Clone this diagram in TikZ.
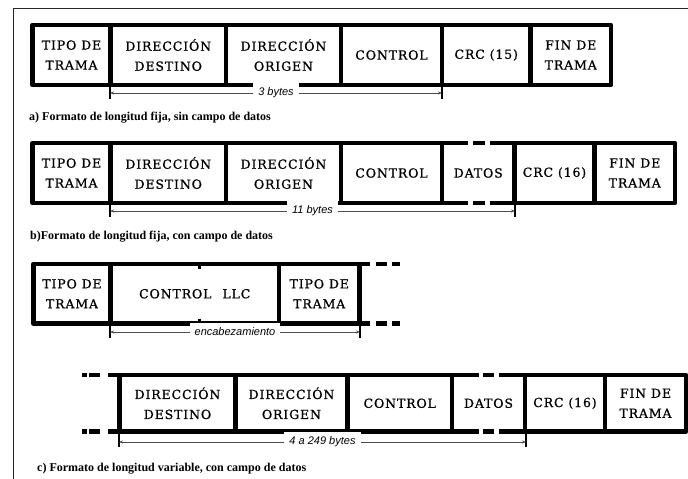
\documentclass[tikz,border=0pt]{standalone}
\usepackage{fontspec}
\setmainfont{DejaVu Serif}
\newfontfamily\boxfont[LetterSpace=7,FakeBold=0.8]{DejaVu Serif}
\newfontfamily\capfont{Liberation Serif}
\newfontfamily\dimfont{Liberation Sans}
\usetikzlibrary{arrows.meta}

% one closed field of a frame: name, x1, x2, y1, y2, text
\newcommand\fcell[6]{%
  \draw[cellbox] (#2,#4) rectangle (#3,#5);
  \node[celltext] (#1) at ({(#2+#3)/2},{(#4+#5)/2}) {#6};}

\begin{document}
\begin{tikzpicture}[x=1pt,y=-1pt,
  frameline/.style={draw=black!85, line width=1pt},
  cellbox/.style={draw=black, line width=4.5pt, line join=round},
  cellline/.style={draw=black, line width=4.5pt},
  celltext/.style={font=\boxfont\fontsize{12.5}{20}\selectfont, align=center,
                   inner sep=0pt, text=black},
  caption/.style={font=\capfont\bfseries\fontsize{12}{14}\selectfont,
                  anchor=west, inner sep=0pt},
  dimline/.style={draw=black!70, line width=0.8pt,
                  {Stealth[length=4pt,width=3pt]}-{Stealth[length=4pt,width=3pt]}},
  dimlabel/.style={font=\dimfont\itshape\fontsize{11}{12}\selectfont,
                   fill=white, inner sep=5pt, text=black},
  dimtick/.style={draw=black, line width=2pt},
  notch/.style={draw=black, line width=3pt},
]
\useasboundingbox (0,0) rectangle (688,479);
\fill[white] (0,0) rectangle (688,479);

% page frame
\draw[frameline] (688,8) -- (13,8) -- (13,479);

% ---------- a) fixed length, no data field ----------
\fcell{a1}{32.5}{110.5}{25}{85}{TIPO DE\\TRAMA}
\fcell{a2}{110.5}{226}{25}{85}{DIRECCIÓN\\DESTINO}
\fcell{a3}{226}{341}{25}{85}{DIRECCIÓN\\ORIGEN}
\fcell{a4}{341}{442}{25}{85}{CONTROL}
\fcell{a5}{442}{530.5}{25}{85}{CRC (15)}
\fcell{a6}{530.5}{611}{25}{85}{FIN DE\\TRAMA}

\coordinate (aL) at (110,93);
\coordinate (aR) at (442,93);
\draw[dimtick] (110,87) -- (110,99);
\draw[dimtick] (442,87) -- (442,99);
\draw[dimline] (aL) -- (aR) node[dimlabel, midway] (alab) {3 bytes};
\node[caption] (acap) at (29,118) {a) Formato de longitud fija, sin campo de datos};

% ---------- b) fixed length, with data field ----------
\fcell{b1}{32.5}{110.5}{143}{203}{TIPO DE\\TRAMA}
\fcell{b2}{110.5}{226}{143}{203}{DIRECCIÓN\\DESTINO}
\fcell{b3}{226}{341}{143}{203}{DIRECCIÓN\\ORIGEN}
\fcell{b4}{341}{442}{143}{203}{CONTROL}
\node[celltext] (b5) at (478.25,173) {DATOS};
\draw[cellline, dash pattern=on 26pt off 5pt on 12pt off 5pt on 40pt] (442,143) -- (514.5,143);
\draw[cellline, dash pattern=on 26pt off 5pt on 12pt off 5pt on 40pt] (442,203) -- (514.5,203);
\fcell{b6}{514.5}{594.5}{143}{203}{CRC (16)}
\fcell{b7}{594.5}{675}{143}{203}{FIN DE\\TRAMA}

\coordinate (bL) at (110,211);
\coordinate (bR) at (515,211);
\draw[dimtick] (110,205) -- (110,217);
\draw[dimtick] (515,205) -- (515,217);
\draw[dimline] (bL) -- (bR) node[dimlabel, midway] (blab) {11 bytes};
\node[caption] (bcap) at (30,237) {b)Formato de longitud fija, con campo de datos};

% ---------- c) variable length: header ----------
\fcell{c1}{33.5}{110.5}{264}{323.5}{TIPO DE\\TRAMA}
\fcell{c2}{110.5}{279}{264}{323.5}{CONTROL\hspace{11pt}LLC}
\fcell{c3}{279}{359.5}{264}{323.5}{TIPO DE\\TRAMA}
\draw[notch] (199.5,264) -- (199.5,269);
\draw[notch] (199.5,318.5) -- (199.5,323.5);
\draw[cellline, dash pattern=on 10.5pt off 6pt on 11pt off 5pt on 8pt] (359.5,264) -- (400,264);
\draw[cellline, dash pattern=on 10.5pt off 6pt on 11pt off 5pt on 8pt] (359.5,323.5) -- (400,323.5);

\coordinate (cL) at (110,332);
\coordinate (cR) at (360,332);
\draw[dimtick] (110,326) -- (110,338);
\draw[dimtick] (360,326) -- (360,338);
\draw[dimline] (cL) -- (cR) node[dimlabel, midway] (clab) {encabezamiento};

% ---------- c) variable length: rest of the frame ----------
\draw[cellline, dash pattern=on 5pt off 2pt on 11pt off 8pt on 20pt] (82,375) -- (119.5,375);
\draw[cellline, dash pattern=on 5pt off 2pt on 11pt off 8pt on 20pt] (82,431.5) -- (119.5,431.5);
\fcell{d1}{119.5}{235.5}{375}{431.5}{DIRECCIÓN\\DESTINO}
\fcell{d2}{235.5}{347.5}{375}{431.5}{DIRECCIÓN\\ORIGEN}
\fcell{d3}{347.5}{452}{375}{431.5}{CONTROL}
\node[celltext] (d4) at (488.5,403.25) {DATOS};
\draw[cellline, dash pattern=on 27pt off 4pt on 11pt off 5pt on 40pt] (452,375) -- (525,375);
\draw[cellline, dash pattern=on 27pt off 4pt on 11pt off 5pt on 40pt] (452,431.5) -- (525,431.5);
\fcell{d5}{525}{605}{375}{431.5}{CRC (16)}
\fcell{d6}{605}{686}{375}{431.5}{FIN DE\\TRAMA}

\coordinate (dL) at (119,442);
\coordinate (dR) at (526,442);
\draw[dimtick] (119,434) -- (119,447);
\draw[dimtick] (526,434) -- (526,447);
\draw[dimline] (dL) -- (dR) node[dimlabel, midway] (dlab) {4 a 249 bytes};
\node[caption] (dcap) at (37,469) {c) Formato de longitud variable, con campo de datos};
\end{tikzpicture}
\end{document}
